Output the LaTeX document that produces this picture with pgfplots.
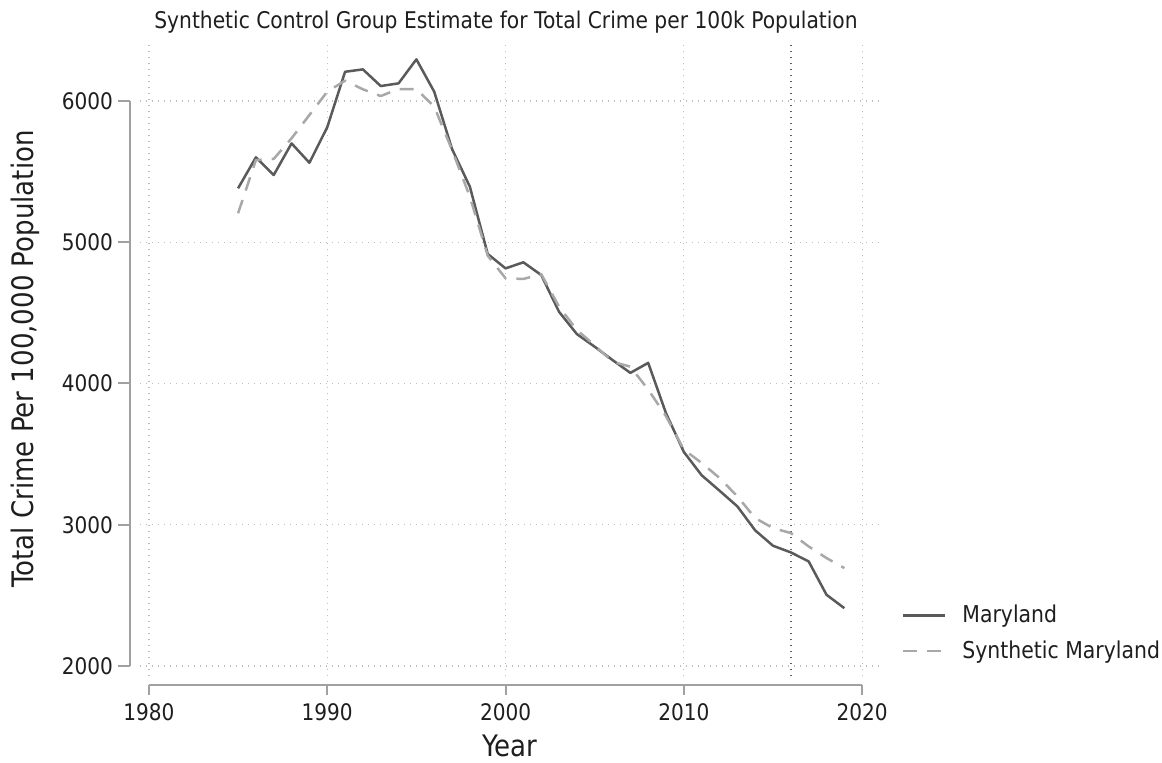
\documentclass[border=0pt]{standalone}
\usepackage{fontspec}
\setmainfont{DejaVu Sans}[FakeStretch=0.88]
\usepackage{pgfplots}
\usepackage{pgfplotstable}
\pgfplotsset{compat=1.18}

\definecolor{mdline}{HTML}{5A5A5A}
\definecolor{synline}{HTML}{A8A8A8}
\definecolor{gridgray}{HTML}{BDBDBD}
\definecolor{axgray}{HTML}{A0A0A0}
\definecolor{txt}{HTML}{1E1E1E}

\pgfplotstableread{
year crime
1985 5382
1986 5601
1987 5476
1988 5700
1989 5563
1990 5814
1991 6207
1992 6224
1993 6106
1994 6125
1995 6295
1996 6066
1997 5660
1998 5393
1999 4917
2000 4815
2001 4858
2002 4768
2003 4508
2004 4350
2005 4260
2006 4166
2007 4075
2008 4146
2009 3789
2010 3515
2011 3350
2012 3241
2013 3130
2014 2960
2015 2851
2016 2804
2017 2740
2018 2504
2019 2409
}\maryland

\pgfplotstableread{
year crime
1985 5205
1986 5582
1987 5590
1988 5736
1989 5901
1990 6066
1991 6144
1992 6083
1993 6035
1994 6085
1995 6085
1996 5960
1997 5653
1998 5322
1999 4905
2000 4745
2001 4740
2002 4775
2003 4544
2004 4379
2005 4270
2006 4154
2007 4119
2008 3957
2009 3768
2010 3532
2011 3437
2012 3331
2013 3201
2014 3047
2015 2976
2016 2941
2017 2846
2018 2764
2019 2693
}\synthetic

\begin{document}
\begin{tikzpicture}
\begin{axis}[
  at={(0pt,0pt)}, anchor=south west,
  scale only axis,
  width=370pt, height=317pt,
  xmin=1979.5, xmax=2021,
  ymin=1929, ymax=6418,
  axis line style={draw=none},
  clip=false,
  xtick={1980,1990,2000,2010,2020},
  ytick={2000,3000,4000,5000,6000},
  major tick length=0pt,
  grid=major,
  major grid style={color=gridgray, line width=0.6pt, dash pattern=on 0.6pt off 2.4pt},
  extra x ticks={2016},
  extra x tick labels={},
  extra x tick style={grid=major, major grid style={color=black!62, line width=0.7pt, dash pattern=on 0.7pt off 2.3pt}},
  /pgf/number format/assume math mode=true,
  /pgf/number format/1000 sep={},
  tick label style={font=\fontsize{11.4}{13}\selectfont, text=txt},
  xticklabel style={yshift=-10.5pt},
  yticklabel style={xshift=-10pt},
  xlabel={Year},
  ylabel={Total Crime Per 100,000 Population},
  label style={font=\fontsize{14.8}{16}\selectfont, text=txt},
  xlabel style={at={(axis description cs:0.5,-0.093)}, anchor=north, inner sep=0pt},
  ylabel style={at={(axis description cs:-0.155,0.5)}, anchor=center},
  title={Synthetic Control Group Estimate for Total Crime per 100k Population},
  title style={at={(axis description cs:0.4946,1.0315)}, anchor=center, yshift=-6pt,
    font=\fontsize{11.5}{13}\selectfont, text=txt},
  legend style={at={(axis description cs:1.021,0.125)}, anchor=north west, draw=none, fill=none,
    font=\fontsize{11.6}{13}\selectfont, text=txt, row sep=3.5pt,
    nodes={inner sep=2pt},
    /tikz/every odd column/.append style={column sep=6pt}},
  legend cell align=left,
  legend image code/.code={\draw[#1] (0pt,0pt) -- (21pt,0pt);},
]
% offset axis lines with outward ticks
\draw[axgray, line width=1pt] (axis cs:1978.93,2000) -- (axis cs:1978.93,6000);
\pgfplotsinvokeforeach{2000,3000,4000,5000,6000}{
  \draw[axgray, line width=1pt] (axis cs:1978.93,#1) -- ++(-6pt,0pt);
}
\draw[axgray, line width=1pt] (axis cs:1980,1865.5) -- (axis cs:2020,1865.5);
\pgfplotsinvokeforeach{1980,1990,2000,2010,2020}{
  \draw[axgray, line width=1pt] (axis cs:#1,1865.5) -- ++(0pt,-5pt);
}

\addplot[mdline, line width=1.25pt, line join=round] table[x=year, y=crime] {\maryland};
\addlegendentry{Maryland}
\addplot[synline, line width=1.25pt, dash pattern=on 7pt off 5pt, line join=round] table[x=year, y=crime] {\synthetic};
\addlegendentry{Synthetic Maryland}
\end{axis}
% page frame
\pgfresetboundingbox
\path (-70pt,-43.5pt) rectangle (511pt,338pt);
\end{tikzpicture}
\end{document}
